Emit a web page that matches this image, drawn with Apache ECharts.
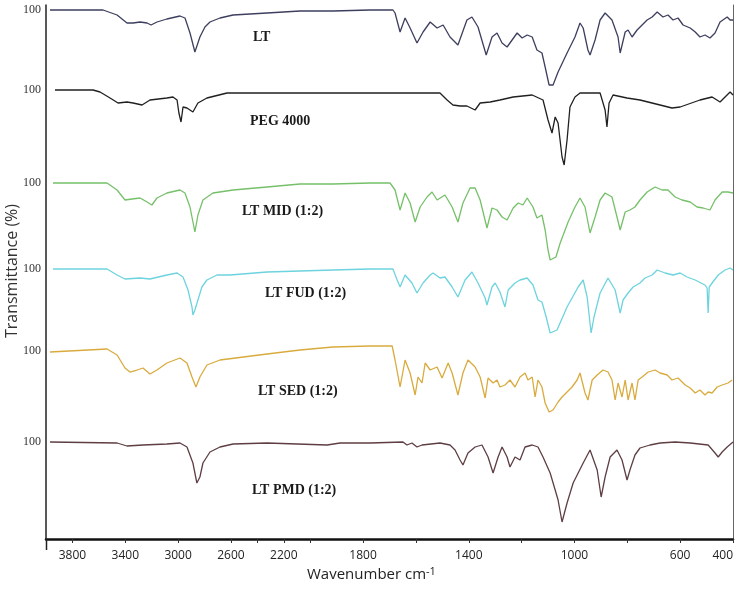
<!DOCTYPE html>
<html><head><meta charset="utf-8">
<script src="https://cdn.jsdelivr.net/npm/echarts@6/dist/echarts.min.js"></script>
<style>html,body{margin:0;padding:0;background:#fff}#c{width:739px;height:592px}</style>
</head><body><div id="c"></div><script>
// Wavenumbers (cm-1) and relative transmittance (100 = baseline) for each spectrum
const ltWn = [3970,3568,3462,3387,3341,3288,3235,3205,3160,3085,2986,2948,2910,2873,2835,2797,2759,2683,2584,2327,2077,1914,1774,1687,1679,1660,1641,1622,1596,1573,1546,1520,1497,1471,1441,1407,1388,1365,1334,1312,1293,1274,1255,1236,1217,1198,1179,1160,1142,1123,1111,1096,1081,1062,1028,998,979,967,949,941,922,903,884,858,835,827,808,797,782,763,744,725,706,687,665,646,627,608,589,562,543,525,506,487,468,449,422,411,400];
const ltT = [100,100,95,87,87,88,87,85,88,91,94,92,77,58,73,83,88,92,95,97,99,99,100,100,97,78,92,82,67,78,88,82,85,73,65,90,93,83,55,73,77,67,63,70,77,72,75,73,60,57,43,25,25,38,57,73,87,82,60,55,70,90,97,90,73,57,78,80,73,80,85,90,93,98,93,95,90,92,85,82,78,73,75,72,77,88,93,90,90];

const pegWn = [3932,3644,3591,3515,3455,3387,3341,3273,3213,3085,3039,3008,2994,2978,2963,2933,2888,2850,2782,2630,2327,1774,1509,1482,1460,1433,1407,1376,1357,1319,1282,1232,1160,1119,1100,1085,1073,1062,1047,1039,1028,1017,998,979,903,884,877,869,854,801,752,676,631,600,525,479,449,430,411,400];
const pegT = [100,100,98,92,87,88,87,85,90,92,93,90,77,68,83,82,78,87,92,97,97,97,97,90,85,84,84,80,87,88,90,93,95,90,70,57,73,67,33,25,50,83,93,97,97,80,63,87,95,92,90,85,82,83,90,93,88,93,98,95];

const midWn = [3947,3538,3462,3402,3349,3288,3235,3198,3160,3085,2986,2948,2910,2873,2850,2812,2736,2584,2327,2077,1914,1774,1698,1679,1660,1641,1622,1603,1584,1558,1539,1520,1490,1463,1441,1422,1395,1376,1357,1331,1312,1293,1274,1255,1232,1213,1195,1179,1157,1142,1123,1111,1100,1092,1070,1054,1024,998,979,960,941,922,903,884,858,839,827,808,790,771,752,725,695,668,646,619,593,562,536,513,487,468,441,419,400];
const midT = [100,100,93,83,84,85,81,78,85,90,93,90,76,51,68,83,90,93,96,99,99,100,100,93,73,90,80,61,76,86,91,83,88,76,61,80,95,95,83,55,75,73,66,63,75,80,78,85,76,65,68,53,33,23,26,40,61,76,85,76,50,66,83,90,86,66,53,71,73,76,83,91,96,93,93,86,83,81,76,75,73,83,91,91,90];

const fudWn = [3947,3538,3462,3402,3288,3213,3085,3008,2963,2925,2895,2888,2873,2850,2820,2782,2706,2607,2327,1914,1774,1687,1671,1660,1641,1615,1596,1573,1546,1535,1509,1490,1463,1441,1414,1388,1365,1338,1331,1312,1300,1282,1263,1251,1225,1206,1179,1157,1138,1123,1107,1092,1066,1028,986,967,952,937,926,903,873,846,827,816,797,778,752,733,706,687,657,627,600,574,543,506,498,494,490,479,456,430,411,400];
const fudT = [100,100,94,90,91,90,94,96,92,79,62,54,59,69,82,89,94,94,97,99,100,100,89,82,94,86,76,86,94,96,91,92,82,72,89,97,86,71,64,82,86,77,62,79,86,89,91,84,69,67,52,36,39,62,82,89,72,36,52,76,91,79,56,69,76,82,86,91,94,99,96,94,96,92,89,84,81,56,82,86,94,99,101,99];

const sedWn = [3970,3538,3462,3402,3364,3311,3266,3213,3160,3085,2986,2933,2895,2865,2835,2782,2683,2327,2077,1914,1774,1690,1679,1660,1641,1622,1603,1592,1577,1565,1546,1520,1501,1478,1463,1441,1422,1403,1376,1357,1338,1327,1308,1293,1282,1263,1244,1225,1206,1187,1176,1160,1149,1138,1123,1111,1096,1081,1062,1047,1028,1009,990,979,960,949,933,914,892,873,858,846,835,820,808,797,782,771,759,744,721,695,676,649,631,608,581,562,543,525,506,494,479,460,441,419,403];
const sedT = [99,102,96,83,79,81,83,77,81,88,93,88,74,64,74,86,91,97,101,104,105,105,91,64,91,78,56,74,68,88,81,84,73,88,78,56,78,91,84,74,53,73,68,71,64,66,71,64,74,78,71,74,54,71,64,48,39,41,49,54,59,64,71,78,58,51,71,76,81,79,71,51,68,54,71,51,68,51,71,74,79,81,78,76,71,73,66,63,58,61,56,59,58,64,66,68,71];

const pmdWn = [3970,3462,3387,3266,3085,2986,2933,2888,2858,2835,2812,2759,2683,2584,2327,1936,1887,1774,1649,1634,1615,1596,1577,1509,1471,1452,1433,1422,1403,1376,1350,1327,1308,1289,1274,1255,1244,1225,1206,1187,1160,1138,1119,1092,1073,1062,1047,1028,1005,967,941,914,899,884,865,839,820,801,790,771,752,714,676,619,562,494,468,456,441,422,400];
const pmdT = [100,99,96,97,98,99,95,79,59,65,79,90,95,98,99,97,99,99,100,97,99,95,97,99,97,92,82,77,89,95,97,85,69,85,95,85,75,85,82,95,97,95,85,69,52,42,20,39,59,79,92,72,45,65,85,92,82,62,72,87,94,97,99,100,99,97,89,85,90,95,100];

const seriesNames = ['LT','PEG 4000','LT MID (1:2)','LT FUD (1:2)','LT SED (1:2)','LT PMD (1:2)'];
const seriesColors = ['#3d3f5e','#202020','#76c06a','#6dd3de','#d9ab3e','#5e3e42'];
const stackOffsets = [429,349,256,170,88,-3];
const xTickLabels = [3800,3400,3000,2600,2200,1800,1400,1000,600,400];
const xTickMarks = [3800,3400,3000,2600,2400,2200,2000,1800,1600,1400,1200,1000,800,600,400];
const yTickLabel = '100';

// FTIR axis: scale doubles below 2000 cm-1
function toT(w){ return w >= 2000 ? 4000 - w : 2000 + 2 * (2000 - w); }
function fromT(t){ return t <= 2000 ? 4000 - t : 2000 - (t - 2000) / 2; }

const spectra = [[ltWn,ltT],[pegWn,pegT],[midWn,midT],[fudWn,fudT],[sedWn,sedT],[pmdWn,pmdT]];

const chart = echarts.init(document.getElementById('c'), null, {renderer:'canvas'});
const series = spectra.map(function(s, i){
  const n = Math.min(s[0].length, s[1].length);
  const data = [];
  for (let k = 0; k < n; k++) data.push([toT(s[0][k]), stackOffsets[i] + s[1][k]]);
  return {
    name: seriesNames[i], type: 'line', data: data, showSymbol: false, smooth: false,
    lineStyle: {color: seriesColors[i], width: 1.3}, itemStyle: {color: seriesColors[i]},
    animation: false, z: 3
  };
});

const labelPos = [[253,39],[250,123],[242,213],[265,295],[258,393],[252,492]];
const graphics = seriesNames.map(function(nm, i){
  return {type:'text', left: labelPos[i][0], top: labelPos[i][1]-9, z: 10,
    style:{text: nm, font: 'bold 14px "Liberation Serif", "Times New Roman", serif', fill:'#1a1a1a'}};
});
graphics.push({type:'text', left: 307, top: 566, z: 10,
  style:{rich:{a:{fontFamily:'"Open Sans", sans-serif', fontSize:15, fill:'#222'}, s:{fontFamily:'"Open Sans", sans-serif', fontSize:11, fill:'#222', verticalAlign:'top', padding:[0,0,6,0]}},
    text:'{a|Wavenumber cm}{s|-1}', fill:'#222'}});
graphics.push({type:'text', x: 12, y: 271, rotation: Math.PI / 2, z: 10,
  style:{text:'Transmittance (%)', font:'16px "Open Sans", sans-serif', fill:'#333', align:'center', verticalAlign:'middle'}});
graphics.push({type:'line', z: 10, shape:{x1:46.5, y1:539, x2:46.5, y2:550}, style:{stroke:'#222', lineWidth:1.5}});

chart.setOption({
  backgroundColor: '#fff',
  animation: false,
  grid: {left: 46, right: 6, top: 5, bottom: 53, outerBoundsMode: 'none', containLabel: false},
  xAxis: {
    type: 'value', min: 0, max: 5200,
    axisLine: {show: true, onZero: false, lineStyle: {color: '#111', width: 2.5}},
    axisTick: {show: true, customValues: xTickMarks.map(toT), length: 4, lineStyle: {color: '#333'}},
    axisLabel: {customValues: xTickLabels.map(toT), formatter: function(v){ return String(Math.round(fromT(v))); },
      fontFamily: '"Open Sans", sans-serif', fontSize: 12, color: '#222', margin: 11, alignMaxLabel: 'right'},
    splitLine: {show: false}
  },
  yAxis: [{
    type: 'value', min: 0, max: 534,
    axisLine: {show: true, lineStyle: {color: '#222', width: 1.5}},
    axisTick: {show: false},
    axisLabel: {customValues: stackOffsets.map(function(o){ return o + 100; }), formatter: function(){ return yTickLabel; },
      fontFamily: '"Liberation Serif", serif', fontSize: 12, color: '#333', margin: 5},
    splitLine: {show: false}
  },{
    type: 'value', min: 0, max: 534, position: 'right',
    axisLine: {show: true, lineStyle: {color: '#666', width: 1}},
    axisTick: {show: false}, axisLabel: {show: false}, splitLine: {show: false}
  }],
  series: series,
  graphic: graphics
});
</script></body></html>
